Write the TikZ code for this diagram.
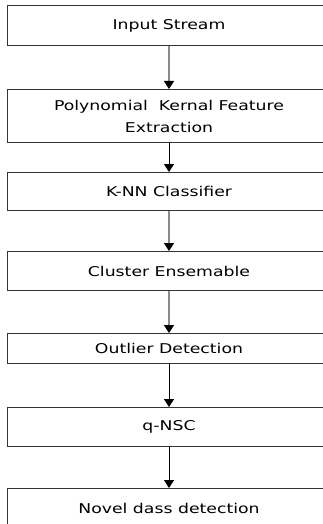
\documentclass[tikz,border=0pt]{standalone}
\usepackage{fontspec}
\setmainfont{DejaVu Sans}[FakeStretch=1.28]
\usetikzlibrary{arrows.meta}

\tikzset{
    stage/.style={draw=black!80, line width=1pt, minimum width=323pt, anchor=north,
        inner sep=0pt, align=center, text=black, font=\fontsize{13.5}{22}\selectfont},
    flow/.style={-{Triangle[width=10pt,length=8pt,color=black]}, line width=1pt}
}

\begin{document}
\begin{tikzpicture}[x=1pt, y=-1pt]
    \useasboundingbox (0,0) rectangle (323,524);

    % Stages
    \node[stage, minimum height=40pt] (input) at (169,5) {Input Stream};
    \node[stage, minimum height=53pt] (kernel) at (169,89) {Polynomial\ \ Kernal Feature\\Extraction};
    \node[stage, minimum height=38pt] (knn) at (169,172) {K-NN Classifier};
    \node[stage, minimum height=39pt] (ensemble) at (169,251) {Cluster Ensemable};
    \node[stage, minimum height=30pt] (outlier) at (169,333) {Outlier Detection};
    \node[stage, minimum height=39pt] (qnsc) at (169,407) {q-NSC};
    \node[stage, minimum height=40pt] (novel) at (169,488) {Novel dass detection};

    % Arrows
    \foreach \a/\b/\c/\w in {input/kernel/black!45/1.6, kernel/knn/black/1,
            knn/ensemble/black!45/1.6, ensemble/outlier/black!45/1.6,
            outlier/qnsc/black/1, qnsc/novel/black/1}
        \draw[flow, draw=\c, line width=\w pt] (\a) -- (\b);
\end{tikzpicture}
\end{document}
